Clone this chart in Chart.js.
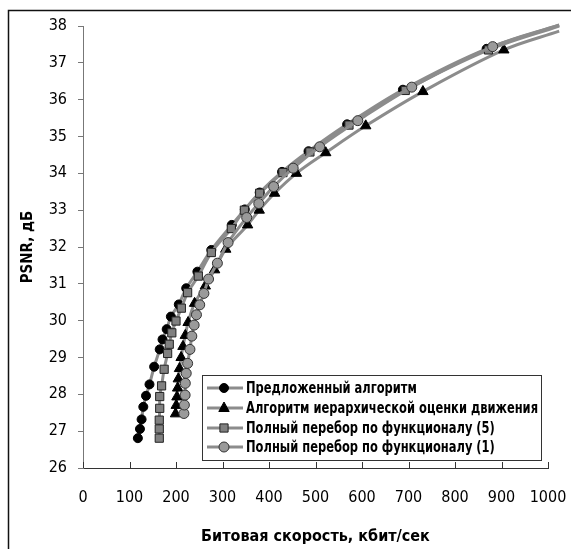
<!DOCTYPE html>
<html>
<head>
<meta charset="utf-8">
<script src="https://cdn.jsdelivr.net/npm/chart.js@4/dist/chart.umd.min.js"></script>
<style>
  html, body { margin: 0; padding: 0; background: #fff; }
</style>
</head>
<body>
<canvas id="chart" width="571" height="549"></canvas>
<script>
// ---------- Data ----------
const seriesNames = [
  'Предложенный алгоритм',
  'Алгоритм иерархической оценки движения',
  'Полный перебор по функционалу (5)',
  'Полный перебор по функционалу (1)'
];

// last value of every series is where the smoothed line runs out (no marker)
const rateProposed = [118, 122.5, 126, 129.7, 135.5, 143, 153, 165, 171, 180, 189, 206, 222, 246, 276, 320, 348, 380, 428, 485, 568, 688, 868, 1024];
const psnrProposed = [26.81, 27.06, 27.32, 27.66, 27.96, 28.27, 28.75, 29.22, 29.49, 29.77, 30.11, 30.44, 30.88, 31.33, 31.92, 32.6, 33.02, 33.48, 34.04, 34.6, 35.33, 36.27, 37.38, 38.02];

const rateHier = [199, 200.5, 202, 203.5, 205, 207.5, 211, 215, 220, 226, 240, 263, 283, 307, 354, 379, 412, 459, 522, 608, 731, 905, 1024];
const psnrHier = [27.47, 27.7, 27.93, 28.17, 28.42, 28.7, 29.0, 29.3, 29.6, 29.95, 30.47, 30.94, 31.38, 31.94, 32.6, 33.0, 33.46, 34.0, 34.56, 35.29, 36.22, 37.35, 37.86];

const rateFull5 = [164, 164, 164, 165, 165, 169, 174.5, 182, 185.5, 191, 200, 211.5, 225, 248, 276, 319, 347, 380, 430, 488, 572, 693, 872, 1024];
const psnrFull5 = [26.81, 27.06, 27.3, 27.62, 27.94, 28.23, 28.68, 29.11, 29.36, 29.67, 29.99, 30.34, 30.76, 31.21, 31.85, 32.5, 33.0, 33.46, 34.02, 34.58, 35.31, 36.25, 37.35, 38.0];

const rateFull1 = [217, 218, 219.6, 220, 222, 225, 230, 234, 239, 244, 251, 260, 270, 289, 312, 352, 378, 410, 452, 509, 591, 707, 881, 1024];
const psnrFull1 = [27.48, 27.71, 27.98, 28.3, 28.57, 28.84, 29.22, 29.58, 29.88, 30.16, 30.43, 30.74, 31.13, 31.56, 32.12, 32.8, 33.18, 33.64, 34.14, 34.72, 35.43, 36.34, 37.44, 38.03];

const xTicks = [0, 100, 200, 300, 400, 500, 600, 700, 800, 900, 1000];
const yTicks = [26, 27, 28, 29, 30, 31, 32, 33, 34, 35, 36, 37, 38];

const xTitle = 'Битовая скорость, кбит/сек';
const yTitle = 'PSNR, дБ';

// ---------- Styles ----------
const NARROW = "'DejaVu Sans Condensed', 'Roboto', sans-serif";
const LINE_GRAY = '#8c8c8c';

const markers = [
  { style: 'circle',   r: 4.5, fill: '#000',    stroke: '#000', bw: 1 },
  { style: 'triangle', r: 6,   fill: '#000',    stroke: '#000', bw: 1 },
  { style: 'rect',     r: 5.8, fill: '#808080', stroke: '#222', bw: 1 },
  { style: 'circle',   r: 5,   fill: '#9a9a9a', stroke: '#333', bw: 1 }
];

function pairs(xs, ys) {
  return xs.map((x, i) => ({ x: x, y: ys[i] }));
}

function makeDataset(idx, xs, ys) {
  const m = markers[idx];
  const n = xs.length;
  return {
    label: seriesNames[idx],
    data: pairs(xs, ys),
    showLine: true,
    tension: 0.35,
    borderColor: LINE_GRAY,
    borderWidth: 3,
    pointStyle: m.style,
    pointRadius: xs.map((_, i) => i === n - 1 ? 0 : m.r),
    pointHoverRadius: xs.map((_, i) => i === n - 1 ? 0 : m.r),
    pointBackgroundColor: m.fill,
    pointBorderColor: m.stroke,
    pointBorderWidth: m.bw,
    clip: false,
    order: 4 - idx
  };
}

// ---------- Plugins ----------
const framePlugin = {
  id: 'frame',
  beforeDraw(chart) {
    const ctx = chart.ctx;
    ctx.save();
    ctx.fillStyle = '#fff';
    ctx.fillRect(0, 0, chart.width, chart.height);
    ctx.strokeStyle = '#111';
    ctx.lineWidth = 1.5;
    ctx.strokeRect(8.5, 10.5, 700, 700);
    ctx.restore();
  },
  afterDraw(chart) {
    // x tick marks point up into the plot
    const ctx = chart.ctx;
    const xs = chart.scales.x;
    const bottom = chart.chartArea.bottom;
    ctx.save();
    ctx.strokeStyle = '#333';
    ctx.lineWidth = 1;
    xTicks.forEach(v => {
      const px = Math.round(xs.getPixelForValue(v)) + 0.5;
      ctx.beginPath();
      ctx.moveTo(px, bottom);
      ctx.lineTo(px, bottom - 6);
      ctx.stroke();
    });
    ctx.restore();
  }
};

function drawMarker(ctx, m, x, y) {
  ctx.save();
  ctx.fillStyle = m.fill;
  ctx.strokeStyle = m.stroke;
  ctx.lineWidth = m.bw;
  ctx.beginPath();
  if (m.style === 'circle') {
    ctx.arc(x, y, m.r, 0, Math.PI * 2);
  } else if (m.style === 'rect') {
    const s = m.r * Math.SQRT1_2;
    ctx.rect(x - s, y - s, 2 * s, 2 * s);
  } else {
    const h = m.r;
    ctx.moveTo(x, y - h);
    ctx.lineTo(x + h * 0.866, y + h * 0.5 + 0.5);
    ctx.lineTo(x - h * 0.866, y + h * 0.5 + 0.5);
    ctx.closePath();
  }
  ctx.fill();
  ctx.stroke();
  ctx.restore();
}

const legendPlugin = {
  id: 'boxLegend',
  afterDatasetsDraw(chart) {
    const ctx = chart.ctx;
    const box = { x: 202.5, y: 375.5, w: 339, h: 85 };
    const rows = [388, 408, 428, 447];
    ctx.save();
    ctx.fillStyle = '#fff';
    ctx.fillRect(box.x, box.y, box.w, box.h);
    ctx.strokeStyle = '#333';
    ctx.lineWidth = 1;
    ctx.strokeRect(box.x, box.y, box.w, box.h);

    ctx.font = 'bold 16px ' + NARROW;
    const widest = Math.max(...seriesNames.map(s => ctx.measureText(s).width));
    const sx = Math.min(1, 292 / widest);

    rows.forEach((ry, i) => {
      ctx.strokeStyle = LINE_GRAY;
      ctx.lineWidth = 3;
      ctx.beginPath();
      ctx.moveTo(207, ry);
      ctx.lineTo(243, ry);
      ctx.stroke();
      drawMarker(ctx, markers[i], 224, ry);

      ctx.save();
      ctx.translate(246, ry);
      ctx.scale(sx, 1);
      ctx.fillStyle = '#000';
      ctx.textBaseline = 'middle';
      ctx.fillText(seriesNames[i], 0, 1);
      ctx.restore();
    });
    ctx.restore();
  }
};

// ---------- Chart ----------
const ctx = document.getElementById('chart').getContext('2d');

new Chart(ctx, {
  type: 'scatter',
  data: {
    datasets: [
      makeDataset(0, rateProposed, psnrProposed),
      makeDataset(1, rateHier, psnrHier),
      makeDataset(2, rateFull5, psnrFull5),
      makeDataset(3, rateFull1, psnrFull1)
    ]
  },
  options: {
    responsive: false,
    animation: false,
    layout: { padding: { left: 8, right: 23, top: 26, bottom: 0 } },
    plugins: {
      legend: { display: false },
      tooltip: { enabled: false }
    },
    scales: {
      x: {
        type: 'linear',
        min: 0, max: 1000,
        afterFit: s => { s.height = 81; s.paddingLeft = 0; s.paddingRight = 0; },
        afterBuildTicks: s => { s.ticks = xTicks.map(v => ({ value: v })); },
        grid: { display: true, drawOnChartArea: false, drawTicks: false },
        border: { display: true, color: '#333', width: 1 },
        ticks: {
          color: '#000',
          padding: 20,
          maxRotation: 0,
          callback: v => String(v),
          font: { family: NARROW, size: 16 }
        },
        title: {
          display: true,
          text: xTitle,
          color: '#000',
          padding: { top: 0, bottom: 3 },
          font: { family: NARROW, size: 16, weight: 'bold' }
        }
      },
      y: {
        type: 'linear',
        min: 26, max: 38,
        afterFit: s => { s.width = 75; s.paddingTop = 0; s.paddingBottom = 0; },
        afterBuildTicks: s => { s.ticks = yTicks.map(v => ({ value: v })); },
        grid: { display: true, drawOnChartArea: false, drawTicks: true, tickLength: 5, color: '#777' },
        border: { display: true, color: '#777', width: 1 },
        ticks: {
          color: '#000',
          padding: 11,
          callback: v => String(v),
          font: { family: NARROW, size: 16 }
        },
        title: {
          display: true,
          text: yTitle,
          color: '#000',
          padding: { top: 11, bottom: 0 },
          font: { family: NARROW, size: 15, weight: 'bold' }
        }
      }
    }
  },
  plugins: [framePlugin, legendPlugin]
});
</script>
</body>
</html>
